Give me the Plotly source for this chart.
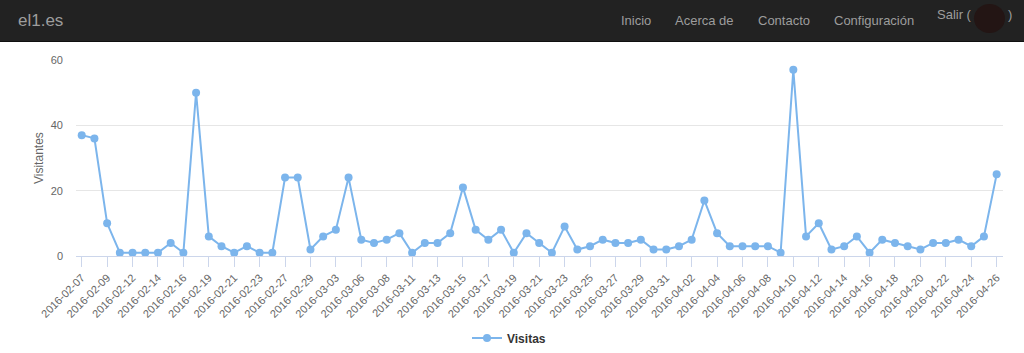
import plotly.graph_objects as go

# ---- data ----
dates = [
    "2016-02-07", "2016-02-08", "2016-02-09", "2016-02-10", "2016-02-12", "2016-02-13",
    "2016-02-14", "2016-02-15", "2016-02-16", "2016-02-17", "2016-02-19", "2016-02-20",
    "2016-02-21", "2016-02-22", "2016-02-23", "2016-02-25", "2016-02-27", "2016-02-28",
    "2016-02-29", "2016-03-01", "2016-03-03", "2016-03-04", "2016-03-06", "2016-03-07",
    "2016-03-08", "2016-03-09", "2016-03-11", "2016-03-12", "2016-03-13", "2016-03-14",
    "2016-03-15", "2016-03-16", "2016-03-17", "2016-03-18", "2016-03-19", "2016-03-20",
    "2016-03-21", "2016-03-22", "2016-03-23", "2016-03-24", "2016-03-25", "2016-03-26",
    "2016-03-27", "2016-03-28", "2016-03-29", "2016-03-30", "2016-03-31", "2016-04-01",
    "2016-04-02", "2016-04-03", "2016-04-04", "2016-04-05", "2016-04-06", "2016-04-07",
    "2016-04-08", "2016-04-09", "2016-04-10", "2016-04-11", "2016-04-12", "2016-04-13",
    "2016-04-14", "2016-04-15", "2016-04-16", "2016-04-17", "2016-04-18", "2016-04-19",
    "2016-04-20", "2016-04-21", "2016-04-22", "2016-04-23", "2016-04-24", "2016-04-25",
    "2016-04-26",
]
visitas = [
    37, 36, 10, 1, 1, 1, 1, 4, 1, 50, 6, 3, 1, 3, 1, 1, 24, 24, 2, 6, 8, 24,
    5, 4, 5, 7, 1, 4, 4, 7, 21, 8, 5, 8, 1, 7, 4, 1, 9, 2, 3, 5, 4, 4, 5, 2, 2, 3,
    5, 17, 7, 3, 3, 3, 3, 1, 57, 6, 10, 2, 3, 6, 1, 5, 4, 3, 2, 4, 4, 5, 3, 6, 25,
]
tick_labels = dates[::2]
y_ticks = [0, 20, 40, 60]
series_name = "Visitas"
y_title = "Visitantes"
brand = "el1.es"
menu_items = ["Inicio", "Acerca de", "Contacto", "Configuración"]

# ---- layout geometry (pixels) ----
W, H = 1024, 353
L, R, T, B = 76, 21, 60, 97
PW, PH = W - L - R, H - T - B


def px(x):
    return (x - L) / PW


def py(y):
    return (H - B - y) / PH


FONT = "Liberation Sans, Arial, sans-serif"
NAV_TXT = "#9d9d9d"

fig = go.Figure()
fig.add_trace(go.Scatter(
    x=dates, y=visitas, mode="lines+markers", name=series_name,
    line=dict(color="#7cb5ec", width=2),
    marker=dict(color="#7cb5ec", size=8),
    showlegend=True,
))

shapes = [
    # navbar background
    dict(type="rect", xref="paper", yref="paper", x0=px(0), x1=px(W), y0=py(41), y1=py(0),
         fillcolor="#222222", line=dict(width=0), layer="above"),
    dict(type="line", xref="paper", yref="paper", x0=px(0), x1=px(W), y0=py(41.5), y1=py(41.5),
         line=dict(color="#101010", width=1), layer="above"),
    # redacted name blob
    dict(type="circle", xref="paper", yref="paper", x0=px(974), x1=px(1005), y0=py(33), y1=py(4),
         fillcolor="#231514", line=dict(width=0), layer="above"),
]

annotations = [
    dict(text=brand, xref="paper", yref="paper", x=px(16), y=py(20), xanchor="left",
         yanchor="middle", showarrow=False, font=dict(family=FONT, size=17, color=NAV_TXT)),
    dict(text=y_title, xref="paper", yref="paper", x=px(39), y=py(158), xanchor="center",
         yanchor="middle", textangle=-90, showarrow=False,
         font=dict(family=FONT, size=12, color="#666666")),
    dict(text="Salir (", xref="paper", yref="paper", x=px(935), y=py(14), xanchor="left",
         yanchor="middle", showarrow=False, font=dict(family=FONT, size=13, color=NAV_TXT)),
    dict(text=")", xref="paper", yref="paper", x=px(1006), y=py(14), xanchor="left",
         yanchor="middle", showarrow=False, font=dict(family=FONT, size=13, color=NAV_TXT)),
]
menu_centers = [635.5, 704.5, 783.5, 873.5]
for item, cx in zip(menu_items, menu_centers):
    annotations.append(dict(text=item, xref="paper", yref="paper", x=px(cx), y=py(20),
                            xanchor="center", yanchor="middle", showarrow=False,
                            font=dict(family=FONT, size=13, color=NAV_TXT)))

fig.update_layout(
    width=W, height=H, autosize=False,
    margin=dict(l=L, r=R, t=T, b=B, autoexpand=False),
    paper_bgcolor="#ffffff", plot_bgcolor="#ffffff",
    font=dict(family=FONT, color="#666666", size=11),
    showlegend=True,
    legend=dict(orientation="h", x=px(467), y=py(338), xanchor="left", yanchor="middle",
                font=dict(family=FONT, size=12, color="#333333", weight="bold"),
                bgcolor="rgba(0,0,0,0)"),
    xaxis=dict(
        type="category", range=[-0.45, len(dates) - 0.5], automargin=False,
        tickmode="array", tickvals=tick_labels, ticktext=tick_labels,
        tickangle=-45, ticks="outside", ticklen=10, tickcolor="#ccd6eb", tickwidth=1,
        showline=True, linecolor="#ccd6eb", linewidth=1, showgrid=False, zeroline=False,
        tickfont=dict(family=FONT, size=11, color="#666666"),
    ),
    yaxis=dict(
        range=[0, 60], tickmode="array", tickvals=y_ticks, automargin=False,
        showgrid=True, gridcolor="#e6e6e6", gridwidth=1, zeroline=False,
        showline=False, ticks="", ticklabelstandoff=12,
        tickfont=dict(family=FONT, size=11, color="#666666"),
    ),
    shapes=shapes,
    annotations=annotations,
)

fig.write_html("out.html")
